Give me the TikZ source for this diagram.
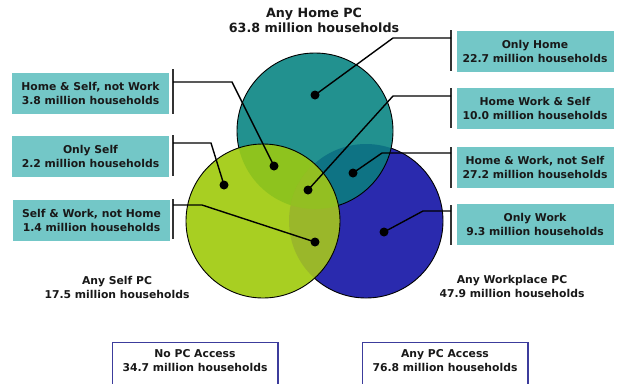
\documentclass[tikz,border=0pt]{standalone}
\usepackage{fontspec}
\setmainfont{DejaVu Sans}
\usetikzlibrary{calc}
\definecolor{cHome}{HTML}{22918F}
\definecolor{cSelf}{HTML}{A8CF22}
\definecolor{cWork}{HTML}{2A2AAE}
\definecolor{cHW}{HTML}{0E7384}
\definecolor{cHS}{HTML}{8EC31E}
\definecolor{cSW}{HTML}{9AB72A}
\definecolor{cHSW}{HTML}{93BF22}
\definecolor{cBox}{HTML}{73C7C7}
\definecolor{cFrame}{HTML}{3C3C9C}
\begin{document}
\begin{tikzpicture}[x=1pt,y=-1pt,
  lbl/.style={fill=cBox, minimum width=157pt, minimum height=41pt, inner sep=0pt,
    align=center, font=\fontsize{10.8}{14}\selectfont\bfseries, text=black!90},
  ttl/.style={align=center, inner sep=0pt, font=\fontsize{10.8}{14}\selectfont\bfseries, text=black!90},
  bigttl/.style={align=center, inner sep=0pt, font=\fontsize{12.7}{15}\selectfont\bfseries, text=black!90},
  bar/.style={draw=black!80, line width=2pt},
  conn/.style={draw=black, line width=1.4pt},
  dot/.style={circle, fill=black, inner sep=0pt, minimum size=9pt},
  outl/.style={draw=black, line width=0.9pt},
  frame/.style={draw=cFrame, line width=1.5pt}]
\useasboundingbox (0,0) rectangle (620,383);
\fill[white] (0,0) rectangle (620,383);
% circles
\coordinate (H) at (315,131);
\coordinate (S) at (263,221);
\coordinate (W) at (366,221);
\fill[cWork] (W) circle (77pt);
\draw[outl] (W) circle (77pt);
\fill[cHome] (H) circle (78pt);
\begin{scope}
  \clip (H) circle (78pt);
  \fill[cHW] (W) circle (77pt);
\end{scope}
\draw[outl] (H) circle (78pt);
\fill[cSelf] (S) circle (77pt);
\begin{scope}
  \clip (S) circle (77pt);
  \fill[cHS] (H) circle (78pt);
  \fill[cSW] (W) circle (77pt);
  \clip (H) circle (78pt);
  \fill[cHSW] (W) circle (77pt);
\end{scope}
\draw[outl] (S) circle (77pt);
% titles
\node[bigttl] (tH) at (314,20.5) {Any Home PC\\63.8 million households};
\node[ttl] (tS) at (117,287) {Any Self PC\\17.5 million households};
\node[ttl] (tW) at (512,286) {Any Workplace PC\\47.9 million households};
% label boxes
\node[lbl] (lHS) at (90.5,93.5) {Home \& Self, not Work\\3.8 million households};
\node[lbl] (lS) at (90.5,156.5) {Only Self\\2.2 million households};
\node[lbl] (lSW) at (91.5,220.5) {Self \& Work, not Home\\1.4 million households};
\node[lbl] (lH) at (535,51.5) {Only Home\\22.7 million households};
\node[lbl] (lHWS) at (535,108.5) {Home Work \& Self\\10.0 million households};
\node[lbl] (lHW) at (535,167.5) {Home \& Work, not Self\\27.2 million households};
\node[lbl] (lW) at (535,224.5) {Only Work\\9.3 million households};
% bars
\draw[bar] (173,69) -- (173,114);
\draw[bar] (173,135) -- (173,176);
\draw[bar] (173,199) -- (173,239);
\draw[bar] (451,30) -- (451,71);
\draw[bar] (451,88) -- (451,128);
\draw[bar] (451,147) -- (451,188);
\draw[bar] (451,205) -- (451,245);
% dots
\node[dot] (dH) at (315,95) {};
\node[dot] (dHS) at (274,166) {};
\node[dot] (dS) at (224,185) {};
\node[dot] (dHWS) at (308,190) {};
\node[dot] (dHW) at (353,173) {};
\node[dot] (dSW) at (315,242) {};
\node[dot] (dW) at (384,232) {};
% connector coordinates
\coordinate (bHS) at (173,82);  \coordinate (kHS) at (232,82);
\coordinate (bS) at (173,143);  \coordinate (kS) at (211,143);
\coordinate (bSW) at (173,205); \coordinate (kSW) at (202,205);
\coordinate (bH) at (451,38);   \coordinate (kH) at (393,38);
\coordinate (bHWS) at (451,96); \coordinate (kHWS) at (393,96);
\coordinate (bHW) at (451,153); \coordinate (kHW) at (382,153);
\coordinate (bW) at (451,211);  \coordinate (kW) at (423,211);
\draw[conn] (bHS) -- (kHS) -- (dHS.center);
\draw[conn] (bS) -- (kS) -- (dS.center);
\draw[conn] (bSW) -- (kSW) -- (dSW.center);
\draw[conn] (bH) -- (kH) -- (dH.center);
\draw[conn] (bHWS) -- (kHWS) -- (dHWS.center);
\draw[conn] (bHW) -- (kHW) -- (dHW.center);
\draw[conn] (bW) -- (kW) -- (dW.center);
% bottom boxes
\node[ttl] (nopc) at (195,360.5) {No PC Access\\34.7 million households};
\draw[frame] (112.5,342.5) rectangle (278,395);
\node[ttl] (anypc) at (445,360.5) {Any PC Access\\76.8 million households};
\draw[frame] (362.5,342.5) rectangle (528,395);
\end{tikzpicture}
\end{document}
